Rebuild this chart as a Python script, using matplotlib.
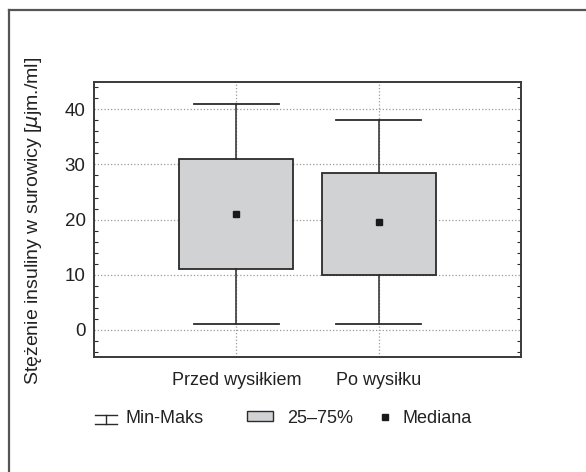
import matplotlib
matplotlib.use("Agg")
import matplotlib.pyplot as plt
from matplotlib.lines import Line2D
from matplotlib.patches import Rectangle
from matplotlib.legend_handler import HandlerBase
from matplotlib.ticker import MultipleLocator

plt.rcParams['font.family'] = ['Liberation Sans Narrow', 'Liberation Sans', 'DejaVu Sans']

# data
groups = ["Przed wysiłkiem", "Po wysiłku"]
minimum = [1, 1]
q25 = [11, 10]
median = [21, 19.6]
q75 = [31, 28.4]
maximum = [41, 38]

ylabel = "Stężenie insuliny w surowicy [$\\mu$jm./ml]"
legend_labels = ["Min-Maks", "25\u201375%", "Mediana"]

dark = "#2b2b2b"
box_grey = "#d1d2d4"
FS = 13


class WhiskerHandler(HandlerBase):
    def create_artists(self, legend, orig, xd, yd, w, h, fontsize, trans):
        y0, y1 = yd + h * 0.0, yd + h * 0.9
        top = Line2D([xd, xd + w], [y1, y1], color=dark, lw=1.0, transform=trans)
        bot = Line2D([xd, xd + w], [y0, y0], color=dark, lw=1.0, transform=trans)
        mid = Line2D([xd + w / 2, xd + w / 2], [y0, y1], color=dark, lw=1.0, transform=trans)
        return [top, bot, mid]


def main():
    fig = plt.figure(figsize=(5.86, 4.72), dpi=100)
    ax = fig.add_axes([0.1604, 0.2436, 0.7287, 0.5827])

    stats = []
    for i, g in enumerate(groups):
        stats.append(dict(label=g, whislo=minimum[i], q1=q25[i], med=median[i],
                          q3=q75[i], whishi=maximum[i], fliers=[]))

    pos = list(range(1, len(groups) + 1))
    ax.bxp(stats, positions=pos, widths=0.8, capwidths=0.6, patch_artist=True,
           boxprops=dict(facecolor=box_grey, edgecolor=dark, linewidth=1.3),
           whiskerprops=dict(color=dark, linewidth=1.1),
           capprops=dict(color=dark, linewidth=1.3),
           medianprops=dict(visible=False), showfliers=False, zorder=3)
    ax.plot(pos, median, linestyle="none", marker="s", markersize=4.5,
            color="#1a1a1a", zorder=4)

    ax.set_xlim(0, 3)
    ax.set_ylim(-5, 45)
    ax.yaxis.set_major_locator(MultipleLocator(10))
    ax.yaxis.set_minor_locator(MultipleLocator(2))
    ax.set_xticks(pos)
    ax.set_xticklabels(groups, fontsize=FS, color="#222222")
    ax.tick_params(axis="y", which="both", direction="in", left=True, right=True,
                   labelsize=FS + 0.5, length=3, width=0.8, color=dark, pad=6,
                   labelcolor="#222222")
    ax.tick_params(axis="y", which="major", length=0)
    ax.tick_params(axis="x", length=0, pad=11)
    ax.grid(True, which="major", linestyle=":", color="#9a9a9a", linewidth=0.9, zorder=0)
    ax.set_axisbelow(True)
    for s in ax.spines.values():
        s.set_color("#3a3a3a")
        s.set_linewidth(1.4)

    fig.text(0.057, 0.532, ylabel, rotation=90, fontsize=14, ha="center", va="center",
             color="#222222")

    # legend: three single entries, placed like the original
    wh = Line2D([], [])
    entries = [
        (wh, legend_labels[0], 0.162, 1.22, 0.45),
        (Rectangle((0, 0), 1, 1, facecolor=box_grey, edgecolor=dark, linewidth=1.0),
         legend_labels[1], 0.4215, 1.45, 0.78),
        (Line2D([], [], linestyle="none", marker="s", markersize=4.5, color="#1a1a1a"),
         legend_labels[2], 0.648, 0.6, 0.67),
    ]
    for h, lab, x, hl, tp in entries:
        fig.legend([h], [lab], loc="center left", bbox_to_anchor=(x, 0.1144),
                   frameon=False, fontsize=FS, handlelength=hl, handleheight=0.5,
                   handletextpad=tp, borderpad=0, borderaxespad=0,
                   labelcolor="#222222", handler_map={wh: WhiskerHandler()})

    # outer frame (only top and left edges are visible in the crop)
    fig.add_artist(Line2D([0.0154, 1.0], [0.979, 0.979], color="#555555", lw=1.6,
                          transform=fig.transFigure))
    fig.add_artist(Line2D([0.0154, 0.0154], [0.0, 0.979], color="#555555", lw=1.6,
                          transform=fig.transFigure))

    fig.savefig("out.png", dpi=100)


if __name__ == '__main__':
    main()
